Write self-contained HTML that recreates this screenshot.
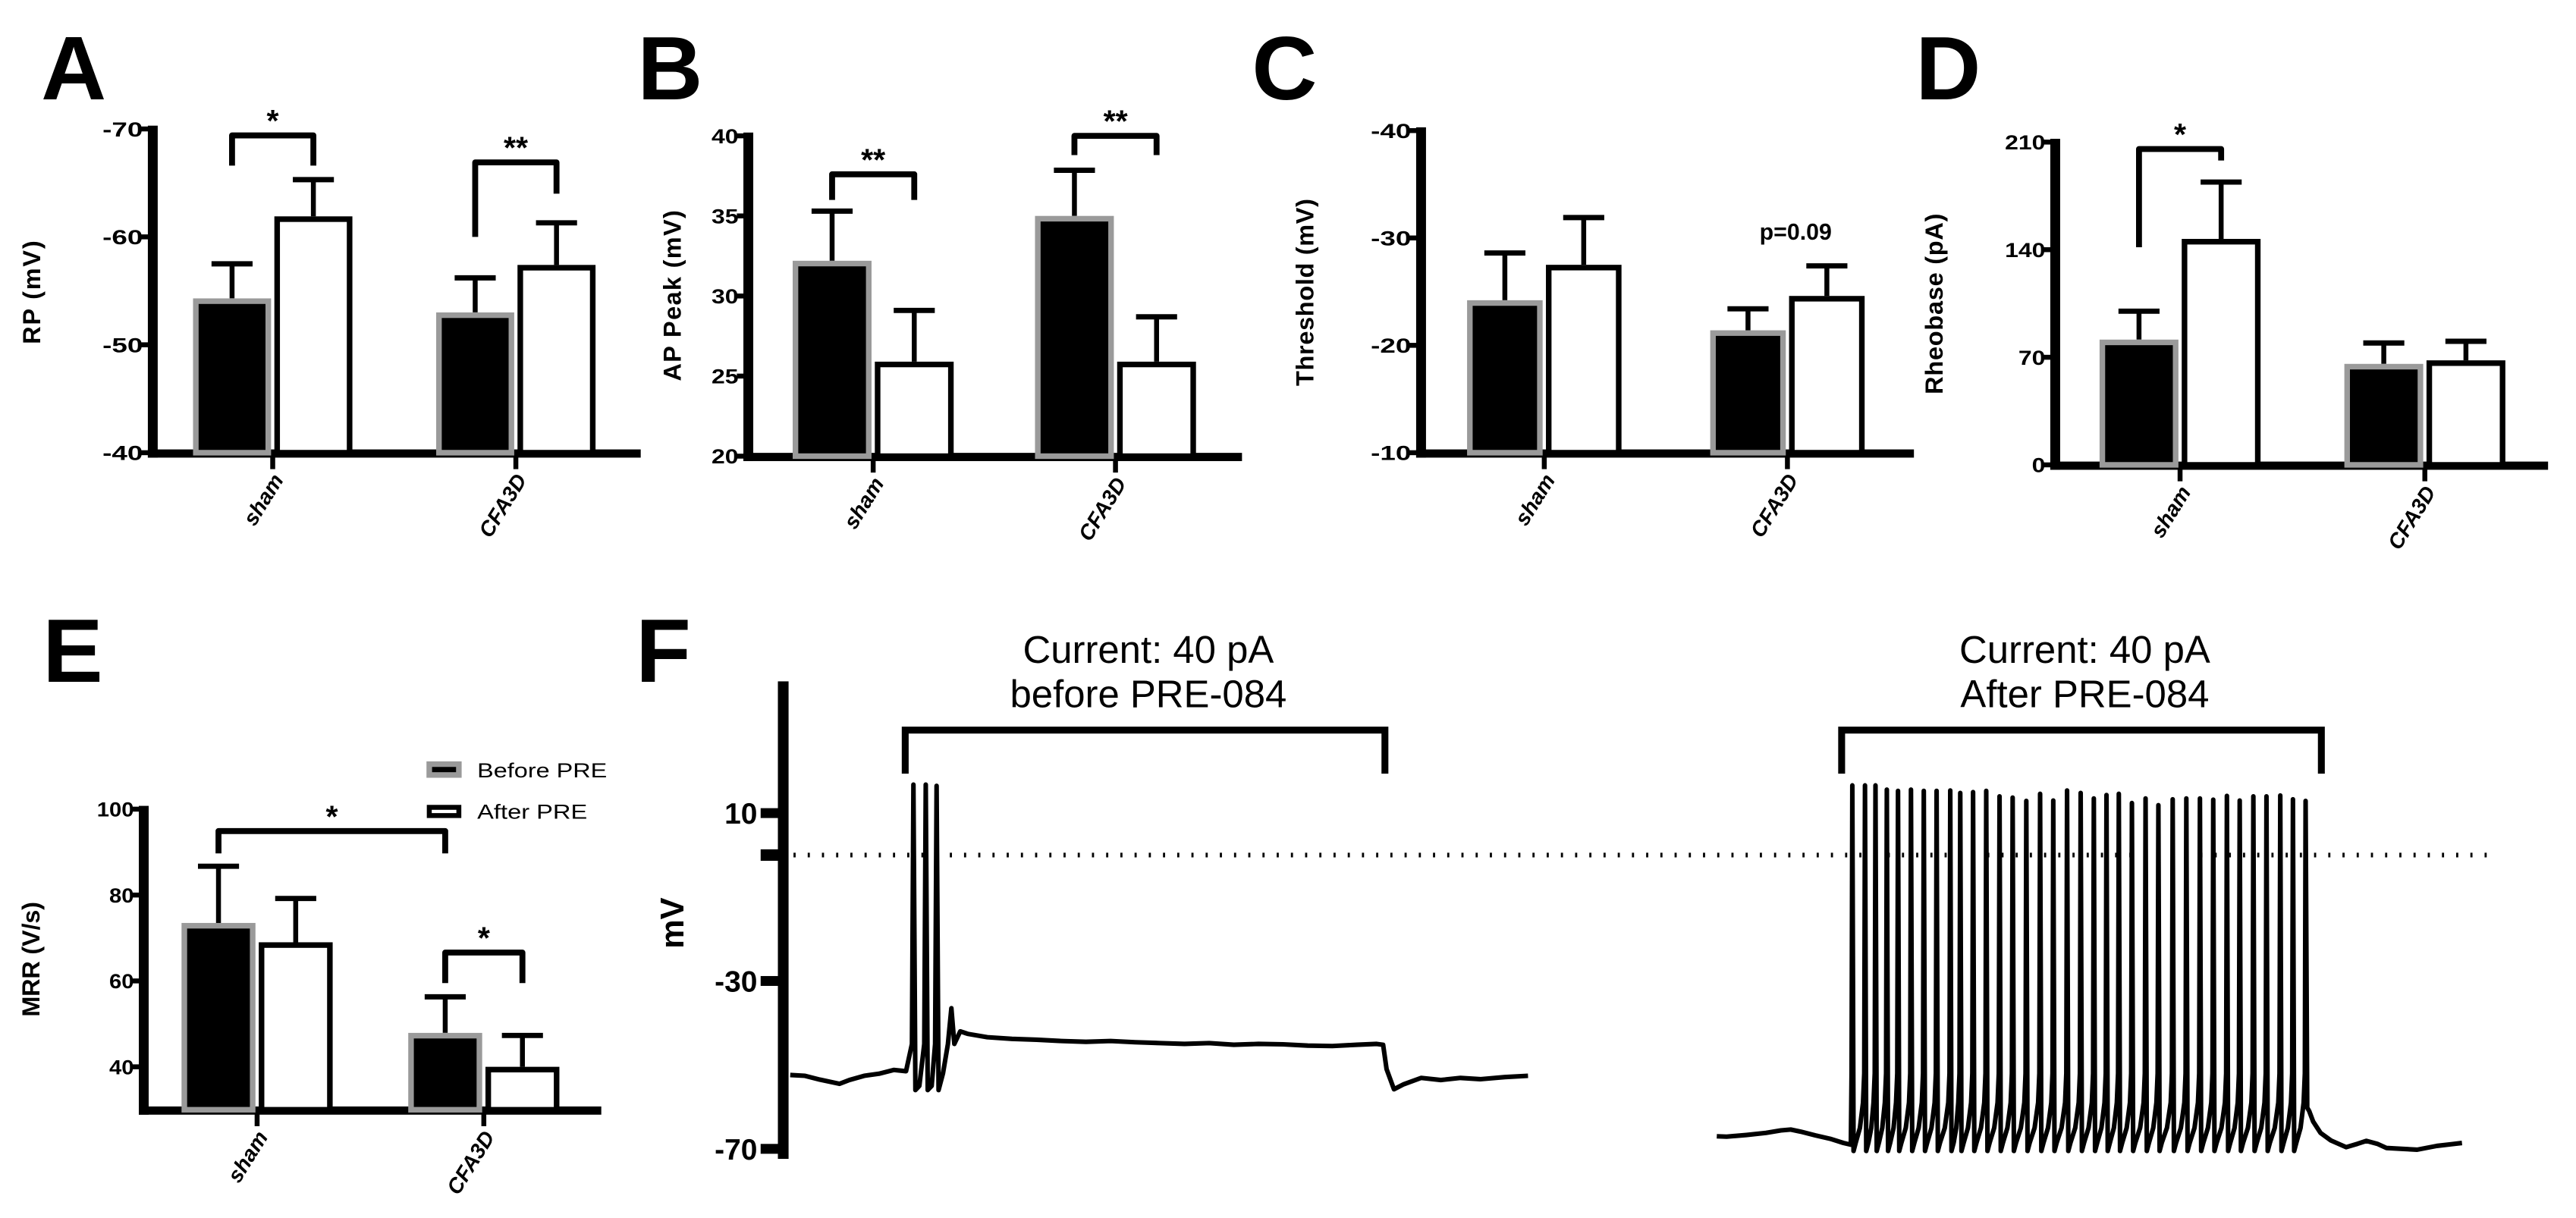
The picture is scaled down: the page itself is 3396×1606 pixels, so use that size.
<!DOCTYPE html>
<html><head><meta charset="utf-8"><style>
html,body{margin:0;padding:0;background:#fff;}
svg{display:block;}
text{font-family:"Liberation Sans",sans-serif;}
</style></head><body>
<svg id="fig" width="3396" height="1606" viewBox="0 0 1568 741.5" preserveAspectRatio="none" xmlns="http://www.w3.org/2000/svg">
<rect x="0" y="0" width="1568" height="741.5" fill="#fff"/>
<text x="25" y="60.5" font-size="55" font-weight="bold">A</text>
<text x="388" y="60.5" font-size="55" font-weight="bold">B</text>
<text x="762" y="60.5" font-size="55" font-weight="bold">C</text>
<text x="1166" y="60.5" font-size="55" font-weight="bold">D</text>
<text x="26" y="415" font-size="55" font-weight="bold">E</text>
<text x="387" y="415" font-size="55" font-weight="bold">F</text>
</svg>
<script>
const categories = ['sham', 'CFA3D'];
// Panel A: RP (mV)
const rpBefore = [-54.3, -53.0];
const rpBeforeSem = [3.2, 3.2];
const rpAfter = [-61.9, -57.4];
const rpAfterSem = [3.4, 3.9];
const rpTicks = [-70, -60, -50, -40];
// Panel B: AP Peak (mV)
const apBefore = [32.2, 35.0];
const apBeforeSem = [3.1, 2.85];
const apAfter = [25.9, 25.9];
const apAfterSem = [3.2, 2.8];
const apTicks = [20, 25, 30, 35, 40];
// Panel C: Threshold (mV)
const thBefore = [-24.2, -21.4];
const thBeforeSem = [4.4, 2.0];
const thAfter = [-27.5, -24.6];
const thAfterSem = [4.4, 2.8];
const thTicks = [-40, -30, -20, -10];
// Panel D: Rheobase (pA)
const rhBefore = [81.5, 65.7];
const rhBeforeSem = [18.5, 13.6];
const rhAfter = [147, 68];
const rhAfterSem = [37, 12.4];
const rhTicks = [0, 70, 140, 210];
// Panel E: MRR (V/s)
const mrrBefore = [73.5, 47.9];
const mrrBeforeSem = [13.2, 8.4];
const mrrAfter = [69, 40];
const mrrAfterSem = [10.2, 7.3];
const mrrTicks = [40, 60, 80, 100];
// Panel F traces (time ms, membrane potential mV)
const trace1T = [0,30,60,100,120,150,180,210,235,247,250,254,262,272,275,279,287,294,297,301,310,320,327,333,345,360,400,450,500,550,600,650,700,750,800,850,900,950,1000,1050,1100,1150,1190,1203,1210,1225,1245,1280,1320,1360,1400,1450,1497];
const trace1V = [-52.4,-52.6,-53.5,-54.5,-53.6,-52.6,-52.1,-51.2,-51.5,-45,16.8,-56,-55,-45,16.8,-56,-55,-45,16.5,-56,-52,-45,-36.5,-45,-42,-42.6,-43.4,-43.8,-44,-44.3,-44.5,-44.3,-44.6,-44.8,-45,-44.8,-45.2,-45,-45.1,-45.4,-45.5,-45.2,-45,-45.2,-51,-55.8,-54.6,-53.1,-53.6,-53.1,-53.4,-52.9,-52.6];
const trace2PreT = [0,20,60,100,130,150,170,200,230,257,272];
const trace2PreV = [-67.0,-67.1,-66.7,-66.2,-65.6,-65.4,-65.9,-66.8,-67.6,-68.6,-69.0];
const spikeTimes = [275,300.7,322,345,367.7,394,420,446,473.7,494,520,546.7,573.7,600.3,628,656,682.7,710.7,738.3,765,790.7,815.7,842.3,870,896,925,952.7,980.3,1007.3,1035,1061,1088.7,1115.3,1143.3,1169,1194.7];
const spikePeaks = [16.6,16.6,16.6,15.6,15.3,15.6,15.3,15.3,15.4,14.8,15.0,15.3,14.0,13.7,12.9,14.6,13.0,15.4,14.8,13.5,14.3,14.6,12.4,13.5,11.9,13.3,13.5,13.5,13.2,14.1,13.0,14.0,14.0,14.2,13.3,12.9];
const trace2PostT = [1198,1202,1210,1225,1246,1277,1300,1318,1340,1359,1390,1421,1461,1490,1512];
const trace2PostV = [-60.2,-61,-63.5,-66.2,-68,-69.6,-68.8,-68.1,-68.8,-69.8,-70,-70.2,-69.3,-68.9,-68.6];
const fTicks = [10, -30, -70];

const NS = 'http://www.w3.org/2000/svg';
const svg = document.getElementById('fig');
function mk(tag, attrs, name, parent) {
  const el = document.createElementNS(NS, tag);
  for (const k in attrs) el.setAttribute(k, attrs[k]);
  
  
  (parent || svg).appendChild(el);
  return el;
}
function txt(x, y, s, attrs, name, parent) {
  const t = mk('text', Object.assign({x: x, y: y}, attrs), name, parent);
  t.textContent = s;
  return t;
}

function barPanel(p) {
  const g = mk('g', {}, 'panel-' + p.id);
  const ys = v => p.yBot - (v - p.vMin) / (p.vMax - p.vMin) * (p.yBot - p.yTop);
  const dir = Math.sign(p.vMax - p.vMin);
  mk('rect', {x: p.ax - 3, y: p.yTop - 2, width: 6, height: p.yBot - p.yTop + 5, fill: '#000'}, 'y-axis', g);
  mk('rect', {x: p.ax - 3, y: p.yBot - 2, width: p.axEnd - p.ax + 3, height: 5, fill: '#000'}, 'x-axis', g);
  p.ticks.forEach(v => {
    const y = ys(v);
    mk('rect', {x: p.ax - 7, y: y - 1.5, width: 5, height: 3, fill: '#000'}, 'y-tick', g);
    txt(p.ax - 6, y + 4.5, String(v), {'font-size': 12.5, 'font-weight': 'bold', 'text-anchor': 'end', textLength: p.tickLen * String(v).length, lengthAdjust: 'spacingAndGlyphs'}, 'y-tick-label', g);
  });
  txt(p.labX, p.labY, p.label, {'font-size': 15, 'font-weight': 'bold', 'text-anchor': 'middle', textLength: p.labLen, lengthAdjust: 'spacing', transform: `rotate(-90 ${p.labX} ${p.labY})`}, 'y-axis-title', g);
  const centers = [];
  categories.forEach((cat, i) => {
    const c = p.centers[i];
    mk('rect', {x: c - 1.5, y: p.yBot, width: 3, height: 10, fill: '#000'}, 'x-tick', g);
    const lx = c + 7, ly = p.yBot + 16.5;
    txt(lx, ly, cat, {'font-size': 13, 'font-weight': 'bold', 'font-style': 'italic', 'text-anchor': 'end', transform: `rotate(-58 ${lx} ${ly})`}, 'x-category-label', g);
    const series = [
      {v: p.before[i], s: p.beforeSem[i], x0: c - 1 - p.w, fill: '#000', stroke: '#9a9a9a', name: 'bar-before-' + cat},
      {v: p.after[i], s: p.afterSem[i], x0: c + 1, fill: '#fff', stroke: '#000', name: 'bar-after-' + cat}
    ];
    series.forEach(b => {
      const bc = b.x0 + p.w / 2;
      const top = ys(b.v), et = ys(b.v + dir * b.s);
      mk('line', {x1: bc, x2: bc, y1: top, y2: et, stroke: '#000', 'stroke-width': 3}, 'error-bar', g);
      mk('line', {x1: bc - 12.5, x2: bc + 12.5, y1: et, y2: et, stroke: '#000', 'stroke-width': 3.2}, 'error-cap', g);
      const sw = 3.4;
      mk('rect', {x: b.x0 + sw / 2, y: top + sw / 2, width: p.w - sw, height: p.yBot - top - sw / 2, fill: b.fill, stroke: b.stroke, 'stroke-width': sw}, b.name, g);
      centers.push(bc);
    });
  });
  (p.brackets || []).forEach(br => {
    const x1 = centers[br[0]], x2 = centers[br[1]];
    const yt = ys(br[2]), yl = ys(br[3]), yr = ys(br[4]);
    mk('path', {d: `M${x1} ${yl} L${x1} ${yt} L${x2} ${yt} L${x2} ${yr}`, fill: 'none', stroke: '#000', 'stroke-width': 3.6, 'stroke-linejoin': 'round'}, 'significance-bracket', g);
    txt((x1 + x2) / 2, yt - 2.5, br[5], {'font-size': 19, 'font-weight': 'bold', 'text-anchor': 'middle'}, 'significance-label', g);
  });
  return {g: g, ys: ys};
}

barPanel({id: 'a', ax: 93, axEnd: 390, yTop: 78.5, yBot: 275.6, vMin: -40, vMax: -70, ticks: rpTicks, tickLen: 8.2,
  centers: [166, 314], w: 47.5, before: rpBefore, beforeSem: rpBeforeSem, after: rpAfter, afterSem: rpAfterSem,
  label: 'RP (mV)', labX: 24.5, labY: 178, labLen: 63,
  brackets: [[0, 1, -69.4, -66.6, -66.6, '*'], [2, 3, -66.9, -60, -64, '**']]});
barPanel({id: 'b', ax: 455.5, axEnd: 756, yTop: 82.7, yBot: 277.7, vMin: 20, vMax: 40, ticks: apTicks, tickLen: 8.2,
  centers: [531.5, 679], w: 48, before: apBefore, beforeSem: apBeforeSem, after: apAfter, afterSem: apAfterSem,
  label: 'AP Peak (mV)', labX: 414.5, labY: 180, labLen: 104,
  brackets: [[0, 1, 37.6, 36, 36, '**'], [2, 3, 40, 38.8, 38.8, '**']]});
const pc = barPanel({id: 'c', ax: 865, axEnd: 1165, yTop: 79.5, yBot: 275.6, vMin: -10, vMax: -40, ticks: thTicks, tickLen: 8.2,
  centers: [940, 1088], w: 46, before: thBefore, beforeSem: thBeforeSem, after: thAfter, afterSem: thAfterSem,
  label: 'Threshold (mV)', labX: 799.5, labY: 178, labLen: 114, brackets: []});
txt(1093, 146, 'p=0.09', {'font-size': 14, 'font-weight': 'bold', 'text-anchor': 'middle'}, 'p-value-label', pc.g);
barPanel({id: 'd', ax: 1251, axEnd: 1551, yTop: 86.5, yBot: 283, vMin: 0, vMax: 210, ticks: rhTicks, tickLen: 8.2,
  centers: [1327, 1476], w: 48, before: rhBefore, beforeSem: rhBeforeSem, after: rhAfter, afterSem: rhAfterSem,
  label: 'Rheobase (pA)', labX: 1182.5, labY: 185, labLen: 110,
  brackets: [[0, 1, 205.5, 141.6, 198, '*']]});
barPanel({id: 'e', ax: 87.5, axEnd: 366, yTop: 492.6, yBot: 675.6, vMin: 30, vMax: 100, ticks: mrrTicks, tickLen: 7.5,
  centers: [156.5, 294.5], w: 45, before: mrrBefore, beforeSem: mrrBeforeSem, after: mrrAfter, afterSem: mrrAfterSem,
  label: 'MRR (V/s)', labX: 24, labY: 584, labLen: 70,
  brackets: [[0, 2, 94.9, 89.7, 89.7, '*'], [2, 3, 66.6, 59.5, 59.5, '*']]});

const lg = mk('g', {}, 'legend');
mk('rect', {x: 261.3, y: 465.2, width: 18, height: 6.6, fill: '#000', stroke: '#9a9a9a', 'stroke-width': 3.4}, 'legend-swatch-before', lg);
txt(290.5, 473.3, 'Before PRE', {'font-size': 12.5, textLength: 79, lengthAdjust: 'spacingAndGlyphs'}, 'legend-entry-before', lg);
mk('rect', {x: 261.3, y: 491.5, width: 18, height: 5, fill: '#fff', stroke: '#000', 'stroke-width': 3}, 'legend-swatch-after', lg);
txt(290.5, 498.5, 'After PRE', {'font-size': 12.5, textLength: 67, lengthAdjust: 'spacingAndGlyphs'}, 'legend-entry-after', lg);

const fg = mk('g', {}, 'panel-f');
const yF = v => 495 + (10 - v) * 2.555;
const xF1 = t => 481 + 0.3 * t;
const xF2 = t => 1045 + 0.3 * t;
mk('rect', {x: 473.5, y: 414.8, width: 6.5, height: 290.7, fill: '#000'}, 'y-axis', fg);
fTicks.forEach(v => {
  mk('rect', {x: 463, y: yF(v) - 3, width: 12, height: 6, fill: '#000'}, 'y-tick', fg);
  txt(461, yF(v) + 6.5, String(v), {'font-size': 18, 'font-weight': 'bold', 'text-anchor': 'end'}, 'y-tick-label', fg);
});
mk('rect', {x: 463, y: yF(0) - 3.5, width: 12, height: 7, fill: '#000'}, 'y-tick-zero', fg);
txt(416, 562, 'mV', {'font-size': 20, 'font-weight': 'bold', 'text-anchor': 'middle', transform: 'rotate(-90 416 562)'}, 'y-axis-title', fg);
mk('line', {x1: 483, x2: 1521, y1: yF(0), y2: yF(0), stroke: '#000', 'stroke-width': 2.8, 'stroke-dasharray': '1.3 7.35'}, 'zero-reference-line', fg);
[[551, 843, 'before PRE-084', 'stimulus-before'], [1121, 1413, 'After PRE-084', 'stimulus-after']].forEach(b => {
  mk('path', {d: `M${b[0]} 471 L${b[0]} 444.5 L${b[1]} 444.5 L${b[1]} 471`, fill: 'none', stroke: '#000', 'stroke-width': 4.2}, b[3] + '-bracket', fg);
  const cx = (b[0] + b[1]) / 2 + 2;
  txt(cx, 403.5, 'Current: 40 pA', {'font-size': 23.5, 'text-anchor': 'middle'}, b[3] + '-current-label', fg);
  txt(cx, 430.5, b[2], {'font-size': 23.5, 'text-anchor': 'middle'}, b[3] + '-condition-label', fg);
});
let d1 = trace1T.map((t, i) => (i ? 'L' : 'M') + xF1(t).toFixed(2) + ' ' + yF(trace1V[i]).toFixed(2)).join(' ');
mk('path', {d: d1, fill: 'none', stroke: '#000', 'stroke-width': 2.8, 'stroke-linejoin': 'round'}, 'trace-before-pre084', fg);
const pts = [];
trace2PreT.forEach((t, i) => pts.push([t, trace2PreV[i]]));
spikeTimes.forEach((ts, i) => {
  pts.push([ts - 1.5, -52]);
  pts.push([ts, spikePeaks[i]]);
  if (i < spikeTimes.length - 1) {
    const nx = spikeTimes[i + 1];
    pts.push([ts + 2.5, -70.5]);
    pts.push([ts + 7, -68.5]);
    pts.push([ts + (nx - ts) * 0.6, -65]);
    pts.push([nx - 4, -59]);
  }
});
trace2PostT.forEach((t, i) => pts.push([t, trace2PostV[i]]));
let d2 = pts.map((p, i) => (i ? 'L' : 'M') + xF2(p[0]).toFixed(2) + ' ' + yF(p[1]).toFixed(2)).join(' ');
mk('path', {d: d2, fill: 'none', stroke: '#000', 'stroke-width': 2.8, 'stroke-linejoin': 'round'}, 'trace-after-pre084', fg);
</script>
</body></html>
